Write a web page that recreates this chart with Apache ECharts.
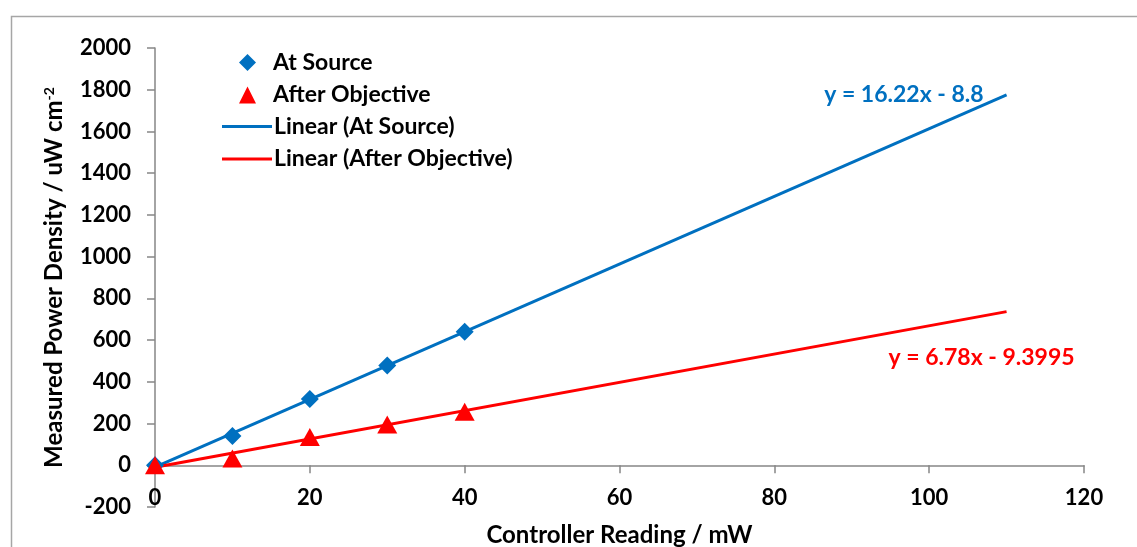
<!DOCTYPE html>
<html>
<head>
<meta charset="utf-8">
<script src="https://cdn.jsdelivr.net/npm/echarts@6/dist/echarts.min.js"></script>
<style>html,body{margin:0;padding:0;background:#fff;}#c{width:1137px;height:547px;}</style>
</head>
<body>
<div id="c"></div>
<script>
var controllerReading = [0, 10, 20, 30, 40];
var atSource = [0, 140, 318, 478, 640];
var afterObjective = [0, 33, 135, 195, 257];
var sourceTrend = [[0, -8.8], [110, 1775.4]];
var objectiveTrend = [[0, -9.3995], [110, 736.4]];
var sourceEquation = 'y = 16.22x - 8.8';
var objectiveEquation = 'y = 6.78x - 9.3995';
var xTicks = { min: 0, max: 120, interval: 20 };
var yTicks = { min: -200, max: 2000, interval: 200 };

var FONT = 'Lato';
var BLUE = '#0070C0', RED = '#FF0000', AX = '#868686';
function pairs(xs, ys) { return xs.map(function (x, i) { return [x, ys[i]]; }); }
var txt = function (size, color) { return { fontFamily: FONT, fontWeight: 'bold', fontSize: size, color: color || '#000' }; };

var chart = echarts.init(document.getElementById('c'), null, { renderer: 'canvas' });
chart.setOption({
  animation: false,
  backgroundColor: '#fff',
  textStyle: { fontFamily: FONT },
  graphic: [{
    type: 'rect', left: 9, top: 14, silent: true, z: -10,
    shape: { width: 1200, height: 600 },
    style: { fill: 'none', stroke: '#A6A6A6', lineWidth: 1.5 }
  }],
  grid: { left: 155, top: 48, right: 53, bottom: 40, containLabel: false, outerBoundsMode: 'none' },
  legend: [{
    orient: 'vertical', left: 234, top: 46,
    itemWidth: 17, itemHeight: 17, itemGap: 9.5,
    data: ['At Source', 'After Objective'],
    textStyle: Object.assign(txt(23), { lineHeight: 22, padding: [0, 0, 0, 12] })
  }, {
    orient: 'vertical', left: 217, top: 110,
    itemWidth: 50, itemHeight: 3, itemGap: 9.5, icon: 'rect',
    data: ['Linear (At Source)', 'Linear (After Objective)'],
    textStyle: Object.assign(txt(23), { lineHeight: 22, padding: [0, 0, 0, -3] })
  }],
  xAxis: {
    type: 'value', min: xTicks.min, max: xTicks.max, interval: xTicks.interval,
    name: 'Controller Reading / mW', nameLocation: 'middle', nameGap: 16,
    nameTextStyle: txt(24),
    axisLine: { onZero: true, lineStyle: { color: AX, width: 1.5 } },
    axisTick: { show: true, length: 8, inside: false, lineStyle: { color: AX, width: 1.5 } },
    axisLabel: Object.assign(txt(22), { margin: -20 }),
    splitLine: { show: false }
  },
  yAxis: {
    type: 'value', min: yTicks.min, max: yTicks.max, interval: yTicks.interval,
    name: 'Measured Power Density / uW cm{sup|-2}', nameLocation: 'middle', nameGap: 89, nameRotate: 90,
    nameTextStyle: Object.assign(txt(24), {
      rich: { sup: Object.assign(txt(14), { verticalAlign: 'top', padding: [0, 0, 10, 0] }) } }),
    axisLine: { show: true, onZero: false, lineStyle: { color: AX, width: 1.5 } },
    axisTick: { show: true, length: 8, lineStyle: { color: AX, width: 1.5 } },
    axisLabel: Object.assign(txt(22), { margin: 24, formatter: function (v) { return String(v); } }),
    splitLine: { show: false }
  },
  series: [
    { name: 'At Source', type: 'scatter', symbol: 'diamond', symbolSize: 18, z: 5,
      itemStyle: { color: BLUE, opacity: 1 }, data: pairs(controllerReading, atSource) },
    { name: 'After Objective', type: 'scatter', symbol: 'triangle', symbolSize: [20, 18], z: 5,
      itemStyle: { color: RED, opacity: 1 }, data: pairs(controllerReading, afterObjective) },
    { name: 'Linear (At Source)', type: 'line', symbol: 'none', z: 3,
      lineStyle: { color: BLUE, width: 3 }, itemStyle: { color: BLUE }, data: sourceTrend },
    { name: 'Linear (After Objective)', type: 'line', symbol: 'none', z: 3,
      lineStyle: { color: RED, width: 3 }, itemStyle: { color: RED }, data: objectiveTrend },
    { name: 'eqSource', type: 'scatter', symbolSize: 0, z: 6, silent: true,
      itemStyle: { color: BLUE, opacity: 1 },
      data: [sourceTrend[1]],
      label: Object.assign(txt(23, BLUE), { show: true, position: 'left', distance: 23, formatter: sourceEquation }) },
    { name: 'eqObjective', type: 'scatter', symbolSize: 0, z: 6, silent: true,
      itemStyle: { color: RED, opacity: 1 },
      data: [objectiveTrend[1]],
      label: Object.assign(txt(23, RED), { show: true, position: 'bottom', distance: 34, offset: [-25, 0], formatter: objectiveEquation }) }
  ]
});
</script>
</body>
</html>
